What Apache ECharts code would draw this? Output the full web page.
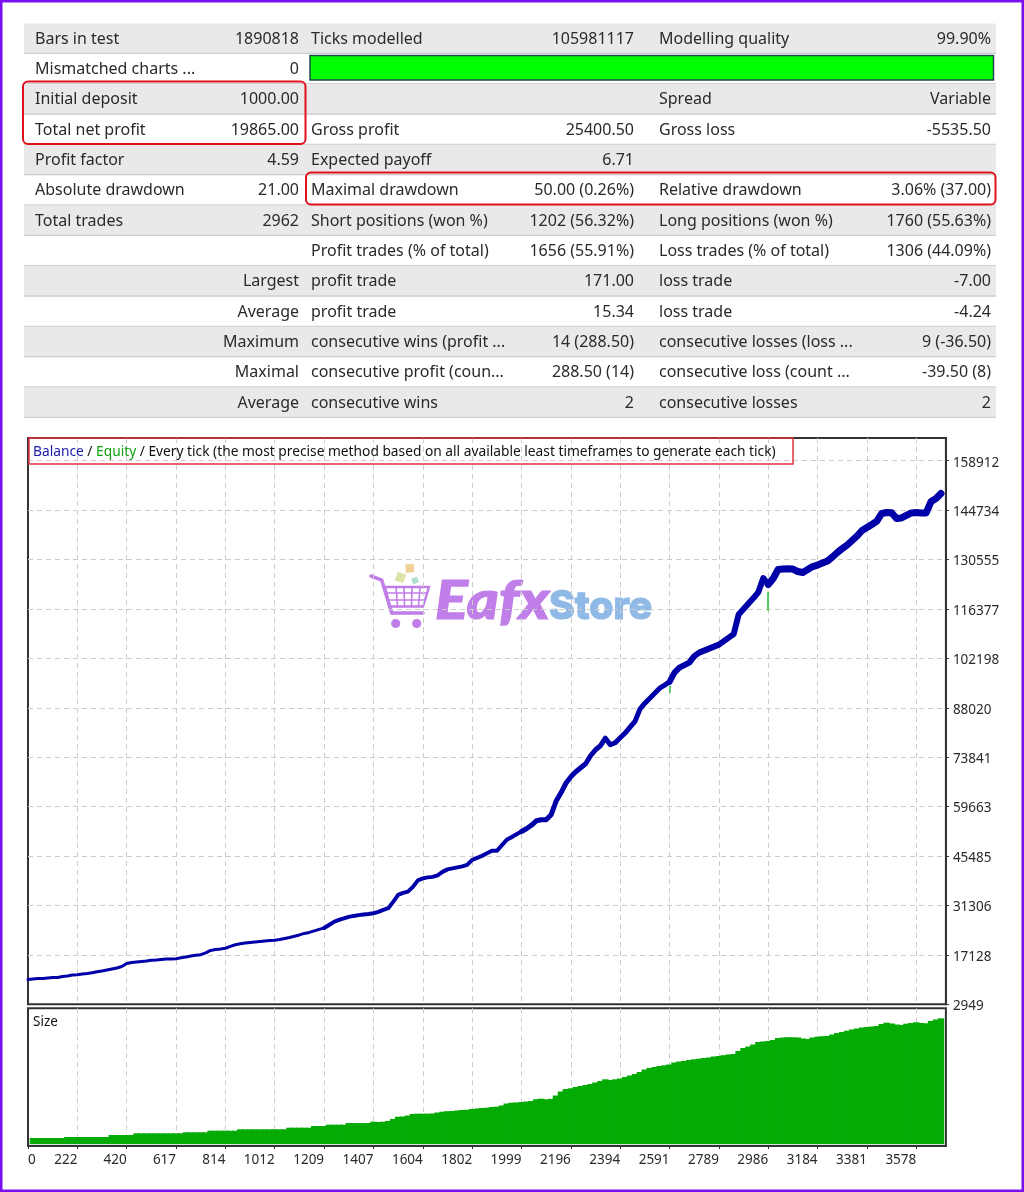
<!DOCTYPE html>
<html><head><meta charset="utf-8">
<style>html,body{margin:0;padding:0;background:#fff}#c{width:1024px;height:1192px}</style>
<script src="https://cdn.jsdelivr.net/npm/echarts@6/dist/echarts.min.js"></script>
</head><body><div id="c"></div>
<script>
const tableRows = [
 ['Bars in test','1890818','Ticks modelled','105981117','Modelling quality','99.90%'],
 ['Mismatched charts ...','0','','','',''],
 ['Initial deposit','1000.00','','','Spread','Variable'],
 ['Total net profit','19865.00','Gross profit','25400.50','Gross loss','-5535.50'],
 ['Profit factor','4.59','Expected payoff','6.71','',''],
 ['Absolute drawdown','21.00','Maximal drawdown','50.00 (0.26%)','Relative drawdown','3.06% (37.00)'],
 ['Total trades','2962','Short positions (won %)','1202 (56.32%)','Long positions (won %)','1760 (55.63%)'],
 ['','','Profit trades (% of total)','1656 (55.91%)','Loss trades (% of total)','1306 (44.09%)'],
 ['','Largest','profit trade','171.00','loss trade','-7.00'],
 ['','Average','profit trade','15.34','loss trade','-4.24'],
 ['','Maximum','consecutive wins (profit ...','14 (288.50)','consecutive losses (loss ...','9 (-36.50)'],
 ['','Maximal','consecutive profit (coun...','288.50 (14)','consecutive loss (count ...','-39.50 (8)'],
 ['','Average','consecutive wins','2','consecutive losses','2']
];
const xTickLabels = ['0','222','420','617','814','1012','1209','1407','1604','1802','1999','2196','2394','2591','2789','2986','3184','3381','3578'];
const yTickLabels = ['2949','17128','31306','45485','59663','73841','88020','102198','116377','130555','144734','158912'];
const balance = [10070,10215,10359,10359,10502,10646,10646,10933,11077,11364,
11450,11651,11795,11996,12312,12513,12800,13087,13374,13805,
14667,14954,15098,15241,15385,15586,15672,15816,15959,15959,
16045,16304,16534,16821,17022,17194,17682,18400,18688,18831,
19032,19549,20037,20325,20554,20698,20842,20985,21129,21272,
21330,21560,21847,22134,22479,22852,23283,23570,24001,24432,
24862,25724,26586,27160,27591,28022,28309,28539,28740,28883,
29084,29458,30032,30520,32330,34340,34914,35288,36638,38504,
39079,39366,39510,39940,40946,41664,41951,42238,42525,42956,
44392,44966,45541,46259,46977,46977,48556,50136,50911,51716,
52520,53295,54300,55593,55880,55880,57316,61193,63634,66363,
68230,69666,70814,71963,74261,75984,77133,79287,77420,77994,
79430,80780,82446,84112,87616,89339,90775,92211,93647,94508,
95427,98098,99534,100252,100970,102837,103842,104417,104991,105566,
106140,107145,108150,109156,114756,116336,117915,119495,121218,125239,
123372,125095,127680,127824,127881,127824,127106,126818,127680,128542,
128972,129547,130121,131270,132562,133711,134716,136009,137301,138881,
139742,140604,141552,143763,144050,143969,142327,142471,143189,143907,
144050,143907,143907,147210,148071,149507];
const equityDips = [[130,94300,92300],[150,121300,115900]];
const size = [null,6,6,6,6,6,6,6,7,7,
7,7,7,7,7,7,7,9,9,9,
9,9,10.7,10.7,10.7,10.7,10.7,10.7,10.7,10.7,
10.7,10.7,11.7,11.7,11.7,11.7,11.7,13.3,13.3,13.3,
13.3,13.3,13.3,14.7,14.7,14.7,14.7,14.7,14.7,14.7,
14.7,14.7,14.7,16.3,16.3,16.3,16.3,16.3,18,18,
18,19.3,19.3,19.3,19.3,21,21,21,21,21,
22.3,22,22.3,23,25,27.3,27.5,28.5,30,30.3,
30.3,30.3,30.5,31.5,32.3,32.8,33,33.5,34,34.2,
35,35.5,36,36.3,37,37.3,38.5,40.5,41.3,41.5,
42,42.5,43,44.8,45.3,44.7,45.2,48.5,52.5,55,
55.7,57,58,59,60,61.5,63,64.7,64,64.7,
65.5,67,68.5,70,72,74.5,76,77,78,78.7,
79.5,81.5,82.5,83,84,84.7,85.3,86,86.5,87.5,
88,88.8,89.5,90,93,96,97.5,99.5,102,102.5,
103,104,106,106.5,106.8,106.7,106.5,105.5,105,106.5,
107.3,107.8,108,109.5,111,112,113.3,114.5,115.5,116.5,
117,117.5,118,120,121.3,120.5,119.5,119,120.3,121,
121.7,121,120.7,123,124.5,125.7];
const categories = [];
for (let i = 0; i <= 186; i++) categories.push(i % 10 === 0 && xTickLabels[i/10] ? xTickLabels[i/10] : '');
const isTick = i => i % 10 === 0;
const sans = '"Noto Sans", sans-serif';
const ink = '#2a2a2a';
const gfx = [];
// table
const rowTop = i => 23.5 + i * 30.33;
tableRows.forEach((r, i) => {
  if (i % 2 === 0) gfx.push({type:'rect', shape:{x:24,y:rowTop(i),width:972,height:30.33}, style:{fill:'#e9e9e9'}});
  gfx.push({type:'rect', shape:{x:24,y:rowTop(i)+29.2,width:972,height:1.3}, style:{fill:'#cfcfcf'}});
  const cols = [[35,'left'],[299,'right'],[311,'left'],[634,'right'],[659,'left'],[991,'right']];
  r.forEach((t, j) => { if (t) gfx.push({type:'text', style:{x:cols[j][0], y:39+i*30.33, text:t, align:cols[j][1], verticalAlign:'middle', font:'16px '+sans, fill:ink}}); });
});
gfx.push({type:'rect', shape:{x:310,y:55.5,width:683.5,height:24.5}, style:{fill:'#00ff00',stroke:'#1c4a4a',lineWidth:1.5}});
[[23,81.5,282.5,62.5],[306,172.5,689.5,32]].forEach(b => gfx.push({type:'rect', z:5, shape:{x:b[0],y:b[1],width:b[2],height:b[3],r:5}, style:{fill:null,stroke:'#e0101c',lineWidth:2}}));
// caption box
gfx.push({type:'rect', z:5, shape:{x:29,y:438,width:764,height:26}, style:{fill:null,stroke:'#e2343c',lineWidth:1.5}});
// strip under size bars
gfx.push({type:'rect', z:-1, shape:{x:29,y:1144,width:915.5,height:2}, style:{fill:'#d5e8d5'}});
// watermark
const cartC = '#c07ee8';
gfx.push({type:'polyline', z:-1, shape:{points:[[371,576],[381.7,580],[391.7,613],[423,613]]}, style:{fill:null,stroke:cartC,lineWidth:3.5,lineCap:'round'}});
gfx.push({type:'polygon', z:-1, shape:{points:[[385,587],[429,587],[423,606.5],[389.5,606.5]]}, style:{fill:null,stroke:cartC,lineWidth:2.5}});
[[396,587,397.5,606],[404,587,404.5,606],[412,587,411.5,606],[420,587,418.5,606],[386,593,428,593],[388,600,426,600]].forEach(l =>
  gfx.push({type:'line', z:-1, shape:{x1:l[0],y1:l[1],x2:l[2],y2:l[3]}, style:{stroke:cartC,lineWidth:1.6}}));
[[395.7,623.5],[416.7,623.5]].forEach(c => gfx.push({type:'circle', z:-1, shape:{cx:c[0],cy:c[1],r:4.6}, style:{fill:cartC}}));
[[405.5,564,8.5,'#f0d198',0.1],[396,573,9,'#dfe3a8',-0.35],[412,577.5,6,'#b0dfcf',0.4]].forEach(b =>
  gfx.push({type:'rect', z:-1, x:b[0]+b[2]/2, y:b[1]+b[2]/2, rotation:b[4], shape:{x:-b[2]/2,y:-b[2]/2,width:b[2],height:b[2]}, style:{fill:b[3]}}));
gfx.push({type:'text', z:-1, x:435, y:602, scaleX:1.13, style:{x:0,y:0,text:'Eafx',verticalAlign:'middle',font:'italic 900 54px Lato, "Open Sans", sans-serif',fill:cartC,stroke:cartC,lineWidth:1.2}});
gfx.push({type:'text', z:-1, style:{x:549,y:607,text:'Store',verticalAlign:'middle',font:'800 39px Inter, "Open Sans", sans-serif',fill:'#8fb9e6',stroke:'#8fb9e6',lineWidth:1.2}});
// page border
gfx.push({type:'rect', z:10, shape:{x:1.25,y:1.25,width:1021.5,height:1189.5}, style:{fill:null,stroke:'#7a10ee',lineWidth:2.5}});

const gridLine = {show:true, interval:(i)=>isTick(i)&&i>0, lineStyle:{color:'#cccccc',type:[5,4],width:1}};
const mainY = {min:2949, max:165420, interval:14178.64};
const balanceSegments = [[0,60,3],[60,100,4],[100,130,5],[130,150,6],[150,185,7]];
const series = [{
  type:'line', name:'Equity', xAxisIndex:0, yAxisIndex:0, data:balance, showSymbol:false, z:2,
  lineStyle:{color:'#00b000',width:1}, animation:false,
  markLine:{silent:true,symbol:'none',animation:false,label:{show:false},lineStyle:{color:'#22bb33',width:1.5,type:'solid'},
    data:equityDips.map(d=>[{coord:[d[0],d[1]]},{coord:[d[0],d[2]]}])}
}];
balanceSegments.forEach(s => series.push({
  type:'line', name:'Balance', xAxisIndex:0, yAxisIndex:0, showSymbol:false, z:3, animation:false,
  data:balance.map((v,i)=> i>=s[0]&&i<=s[1]? v : null),
  lineStyle:{color:'#0000a8',width:s[2],join:'round',cap:'round'}
}));
series.push({type:'bar', name:'Size', xAxisIndex:1, yAxisIndex:1, data:size, barWidth:6.5, clip:true, itemStyle:{color:'#04ab04'}, animation:false, z:3});

const chart = echarts.init(document.getElementById('c'), null, {renderer:'canvas'});
chart.setOption({
  animation:false, backgroundColor:'#fff',
  textStyle:{fontFamily:sans},
  title:[
   {left:33, top:445, padding:0, text:'{b|Balance} / {e|Equity} / Every tick (the most precise method based on all available least timeframes to generate each tick)',
    textStyle:{fontSize:13.75,fontWeight:'normal',color:'#111',fontFamily:sans,rich:{b:{color:'#1a1aaa',fontSize:13.75,fontFamily:sans},e:{color:'#12a012',fontSize:13.75,fontFamily:sans}}}},
   {left:33, top:1015, padding:0, text:'Size', textStyle:{fontSize:13.5,fontWeight:'normal',color:'#111',fontFamily:sans}}
  ],
  grid:[
   {left:28, top:438, width:917.9, height:566.3, show:true, borderColor:'#333', borderWidth:2, backgroundColor:'transparent', containLabel:false},
   {left:28, top:1008.3, width:917.9, height:137.7, show:true, borderColor:'#333', borderWidth:2, backgroundColor:'transparent', containLabel:false}
  ],
  xAxis:[
   {type:'category', gridIndex:0, data:categories, boundaryGap:false, axisLine:{show:false}, axisTick:{show:false}, axisLabel:{show:false}, splitLine:gridLine},
   {type:'category', gridIndex:1, data:categories, boundaryGap:false, axisLine:{show:true,onZero:false,lineStyle:{color:'#333',width:2}},
    axisTick:{show:true,interval:(i)=>isTick(i),length:3,lineStyle:{color:'#333'}},
    axisLabel:{show:true,interval:(i)=>isTick(i),align:'right',alignMinLabel:'left',margin:7,fontSize:13.5,color:ink,fontFamily:sans,hideOverlap:false},
    splitLine:gridLine}
  ],
  yAxis:[
   Object.assign({type:'value', gridIndex:0, position:'right', axisLine:{show:true,lineStyle:{color:'#333',width:2}}, axisTick:{show:true,length:3,lineStyle:{color:'#333'}},
    axisLabel:{show:true,margin:7,fontSize:13.5,color:ink,fontFamily:sans,showMaxLabel:false,hideOverlap:false,
      rich:{a:{fontSize:13.5,color:ink,fontFamily:sans,padding:[4,0,0,0]}},
      formatter:(v)=>{const t=yTickLabels[Math.round((v-mainY.min)/mainY.interval)];return t?'{a|'+t+'}':'';}},
    splitLine:{show:true,showMinLine:false,showMaxLine:false,lineStyle:{color:'#cccccc',type:[5,4],width:1}}}, mainY),
   {type:'value', gridIndex:1, min:-2, max:135.7, axisLine:{show:false}, axisTick:{show:false}, axisLabel:{show:false}, splitLine:{show:false}}
  ],
  graphic:{elements:gfx},
  series:series
});
</script></body></html>
